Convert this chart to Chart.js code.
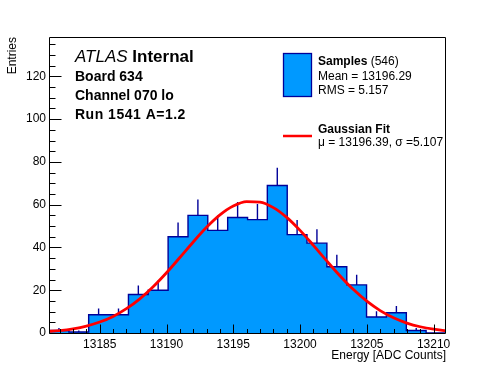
<!DOCTYPE html>
<html>
<head>
<meta charset="utf-8">
<script src="https://cdn.jsdelivr.net/npm/chart.js@4.4.1/dist/chart.umd.min.js"></script>
<style>html,body{margin:0;padding:0;background:#fff;overflow:hidden}canvas{display:block}</style>
</head>
<body>
<canvas id="c" width="496" height="372"></canvas>
<script>
// ---- data ----
const histBinEdges = [13181.20, 13182.69, 13184.17, 13185.66, 13187.15, 13188.63, 13190.12,
  13191.61, 13193.09, 13194.58, 13196.07, 13197.55, 13199.04, 13200.52, 13202.01, 13203.50,
  13204.98, 13206.47, 13207.96, 13209.44, 13210.93];
const histCounts = [1.2, 0.5, 8.5, 8.5, 18, 20, 45, 55, 48, 54, 53, 69, 46, 42, 31, 22.5, 7.5, 9.5, 1.2, 0];
const histErrors = [1.1, 0.7, 2.9, 2.9, 4.2, 4.5, 6.7, 7.4, 6.9, 7.3, 7.3, 8.3, 6.8, 6.5, 5.6, 4.7, 2.7, 3.1, 1.1, 0];
const fitEnergy = [13181, 13182, 13183, 13184, 13185, 13186, 13187, 13188, 13189, 13190, 13191,
  13192, 13193, 13194, 13195, 13196, 13197, 13198, 13199, 13200, 13201, 13202, 13203, 13204,
  13205, 13206, 13207, 13208, 13209, 13210, 13211];
const fitEntries = [0.66, 1.16, 1.98, 3.25, 5.12, 7.77, 11.37, 15.98, 21.62, 28.16, 35.30,
  42.57, 49.42, 55.21, 59.36, 61.42, 61.16, 58.61, 54.06, 47.99, 40.99, 33.70, 26.66, 20.29,
  14.87, 10.49, 7.12, 4.65, 2.92, 1.77, 1.03];
const xTickLabels = [13185, 13190, 13195, 13200, 13205, 13210];
const yTickLabels = [0, 20, 40, 60, 80, 100, 120];
const xRange = [13181.20, 13210.93];
const yRange = [0, 138.4];

const FONT = "'Liberation Sans', Arial, Helvetica, sans-serif";
const HIST_FILL = '#0099ff';
const HIST_LINE = '#000099';
const FIT_LINE = '#ff0000';

// histogram outline as corner points built from the bin arrays
const histOutline = [{x: histBinEdges[0], y: 0}];
histCounts.forEach((c, i) => {
  histOutline.push({x: histBinEdges[i], y: c});
  histOutline.push({x: histBinEdges[i + 1], y: c});
});
histOutline.push({x: histBinEdges[histBinEdges.length - 1], y: 0});

// error bars (upper half, the lower half is hidden by the fill)
const errorSegments = [];
histCounts.forEach((c, i) => {
  if (histErrors[i] <= 0) return;
  const cx = (histBinEdges[i] + histBinEdges[i + 1]) / 2;
  errorSegments.push({x: cx, y: c});
  errorSegments.push({x: cx, y: c + histErrors[i]});
  errorSegments.push({x: cx, y: null});
});

const fitPoints = fitEnergy.map((e, i) => ({x: e, y: fitEntries[i]}));

const rootFrame = {
  id: 'rootFrame',
  afterDatasetsDraw(chart) {
    const {ctx, chartArea: a, scales: {x, y}} = chart;
    ctx.save();
    ctx.strokeStyle = '#000';
    ctx.lineWidth = 1;
    const L = Math.round(a.left) + 0.5, R = Math.round(a.right) - 0.5;
    const T = Math.round(a.top) + 0.5, B = Math.round(a.bottom) + 0.5;
    ctx.beginPath();
    ctx.rect(L, T, R - L, B - T);
    for (let v = Math.ceil(xRange[0]); v <= xRange[1]; v++) {
      const px = Math.round(x.getPixelForValue(v)) + 0.5;
      const len = (v % 5 === 0) ? 9 : 4.5;
      ctx.moveTo(px, B); ctx.lineTo(px, B - len);
    }
    for (let v = 0; v <= yRange[1]; v += 5) {
      const py = Math.round(y.getPixelForValue(v)) + 0.5;
      const len = (v % 20 === 0) ? 12 : 6;
      ctx.moveTo(L, py); ctx.lineTo(L + len, py);
    }
    ctx.stroke();
    ctx.restore();
  },
  afterDraw(chart) {
    const ctx = chart.ctx;
    ctx.save();
    ctx.fillStyle = '#000';
    ctx.textBaseline = 'alphabetic';
    ctx.textAlign = 'left';
    ctx.font = 'italic 17px ' + FONT;
    ctx.fillText('ATLAS', 75, 62);
    const w = ctx.measureText('ATLAS ').width;
    ctx.font = 'bold 17px ' + FONT;
    ctx.fillText('Internal', 75 + w, 62);
    ctx.font = 'bold 14px ' + FONT;
    ctx.fillText('Board 634', 75, 81);
    ctx.fillText('Channel 070 lo', 75, 100);
    ctx.letterSpacing = '0.5px';
    ctx.fillText('Run 1541 A=1.2', 75, 119);
    ctx.letterSpacing = '0px';

    ctx.fillStyle = HIST_FILL;
    ctx.fillRect(283.5, 53.5, 28, 43);
    ctx.strokeStyle = HIST_LINE;
    ctx.lineWidth = 1.3;
    ctx.strokeRect(283.5, 53.5, 28, 43);
    ctx.fillStyle = '#000';
    ctx.font = 'bold 12px ' + FONT;
    ctx.fillText('Samples', 318, 65);
    const ws = ctx.measureText('Samples').width;
    ctx.font = '12px ' + FONT;
    ctx.fillText(' (546)', 318 + ws, 65);
    ctx.fillText('Mean = 13196.29', 318, 79.5);
    ctx.fillText('RMS = 5.157', 318, 93.5);

    ctx.strokeStyle = FIT_LINE;
    ctx.lineWidth = 2.5;
    ctx.beginPath();
    ctx.moveTo(283, 136); ctx.lineTo(312, 136);
    ctx.stroke();
    ctx.font = 'bold 12px ' + FONT;
    ctx.fillText('Gaussian Fit', 318, 133);
    ctx.font = '12px ' + FONT;
    ctx.fillText('\u03bc = 13196.39, \u03c3 =5.107', 318, 146);
    ctx.restore();
  }
};

new Chart(document.getElementById('c'), {
  type: 'line',
  data: {
    datasets: [
      {
        label: 'Gaussian Fit',
        data: fitPoints,
        borderColor: FIT_LINE,
        borderWidth: 2.8,
        pointRadius: 0,
        fill: false,
        cubicInterpolationMode: 'monotone',
        clip: 0,
        order: 0
      },
      {
        label: 'Samples',
        data: histOutline,
        borderColor: HIST_LINE,
        backgroundColor: HIST_FILL,
        borderWidth: 1.4,
        pointRadius: 0,
        tension: 0,
        fill: 'origin',
        clip: 0,
        order: 1
      },
      {
        label: 'errors',
        data: errorSegments,
        borderColor: HIST_LINE,
        borderWidth: 1.4,
        pointRadius: 0,
        tension: 0,
        spanGaps: false,
        fill: false,
        clip: 0,
        order: 2
      }
    ]
  },
  options: {
    responsive: false,
    animation: false,
    devicePixelRatio: 1,
    events: [],
    layout: {padding: {top: 37, right: 50, left: 0, bottom: 0}},
    plugins: {legend: {display: false}, tooltip: {enabled: false}},
    scales: {
      x: {
        type: 'linear',
        min: xRange[0],
        max: xRange[1],
        offset: false,
        grid: {display: false, drawTicks: false},
        border: {display: false},
        ticks: {
          color: '#000',
          font: {family: FONT, size: 12},
          padding: 4,
          maxRotation: 0,
          autoSkip: false,
          callback: v => String(v)
        },
        afterBuildTicks(scale) { scale.ticks = xTickLabels.map(v => ({value: v})); },
        afterFit(scale) { scale.height = 39; },
        title: {
          display: true,
          text: 'Energy [ADC Counts]',
          align: 'end',
          color: '#000',
          font: {family: FONT, size: 12},
          padding: {top: 0, bottom: 9}
        }
      },
      y: {
        type: 'linear',
        min: yRange[0],
        max: yRange[1],
        grid: {display: false, drawTicks: false},
        border: {display: false},
        ticks: {
          color: '#000',
          font: {family: FONT, size: 12},
          padding: 3,
          callback: v => String(v)
        },
        afterBuildTicks(scale) { scale.ticks = yTickLabels.map(v => ({value: v})); },
        afterFit(scale) { scale.width = 49; },
        title: {
          display: true,
          text: 'Entries',
          align: 'end',
          color: '#000',
          font: {family: FONT, size: 12},
          padding: {top: 5, bottom: 0}
        }
      }
    }
  },
  plugins: [rootFrame]
});
</script>
</body>
</html>
